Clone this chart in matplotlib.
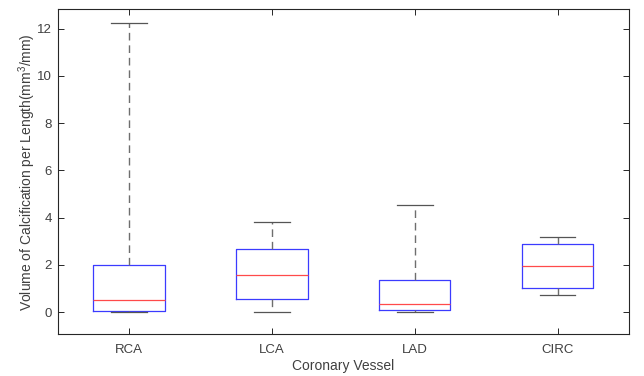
import matplotlib
matplotlib.use("Agg")
import matplotlib.pyplot as plt

plt.rcParams['font.family'] = ['Liberation Sans', 'DejaVu Sans']
plt.rcParams['mathtext.default'] = 'regular'

# box statistics
vessels = ["RCA", "LCA", "LAD", "CIRC"]
whisker_lo = [0.0, 0.0, 0.0, 0.74]
q1 = [0.07, 0.56, 0.08, 1.03]
medians = [0.53, 1.59, 0.35, 1.97]
q3 = [2.01, 2.69, 1.35, 2.87]
whisker_hi = [12.22, 3.83, 4.54, 3.20]

stats = []
for i in range(len(vessels)):
    stats.append({"label": vessels[i], "whislo": whisker_lo[i], "q1": q1[i],
                  "med": medians[i], "q3": q3[i], "whishi": whisker_hi[i],
                  "fliers": []})

fig = plt.figure(figsize=(6.44, 3.76), dpi=100)
ax = fig.add_axes([0.0893, 0.111, 0.8874, 0.864])

ax.bxp(stats, widths=0.5, showfliers=False,
       boxprops=dict(color="#3b3bff", linewidth=0.9),
       medianprops=dict(color="#ff4a4a", linewidth=0.9),
       whiskerprops=dict(color="#6e6e6e", linestyle=(0, (5.5, 3.5)), linewidth=1.0),
       capprops=dict(color="#555555", linewidth=0.9))

ax.set_xlim(0.5, 4.5)
ax.set_ylim(-0.93, 12.81)
ax.set_yticks([0, 2, 4, 6, 8, 10, 12])

txt = "#404040"
ax.tick_params(direction="in", length=4.3, width=0.7, colors="#262626",
               labelcolor=txt, labelsize=9.5, top=True, right=True)
ax.tick_params(axis="x", pad=7)
ax.tick_params(axis="y", pad=4)
for s in ax.spines.values():
    s.set_color("#262626")
    s.set_linewidth(0.8)

ax.set_xlabel("Coronary Vessel", fontsize=10, color=txt, labelpad=2)
ax.set_ylabel("Volume of Calcification per Length(mm$^3$/mm)", fontsize=10,
              color=txt, labelpad=-1)

fig.savefig("out.png", dpi=100)
